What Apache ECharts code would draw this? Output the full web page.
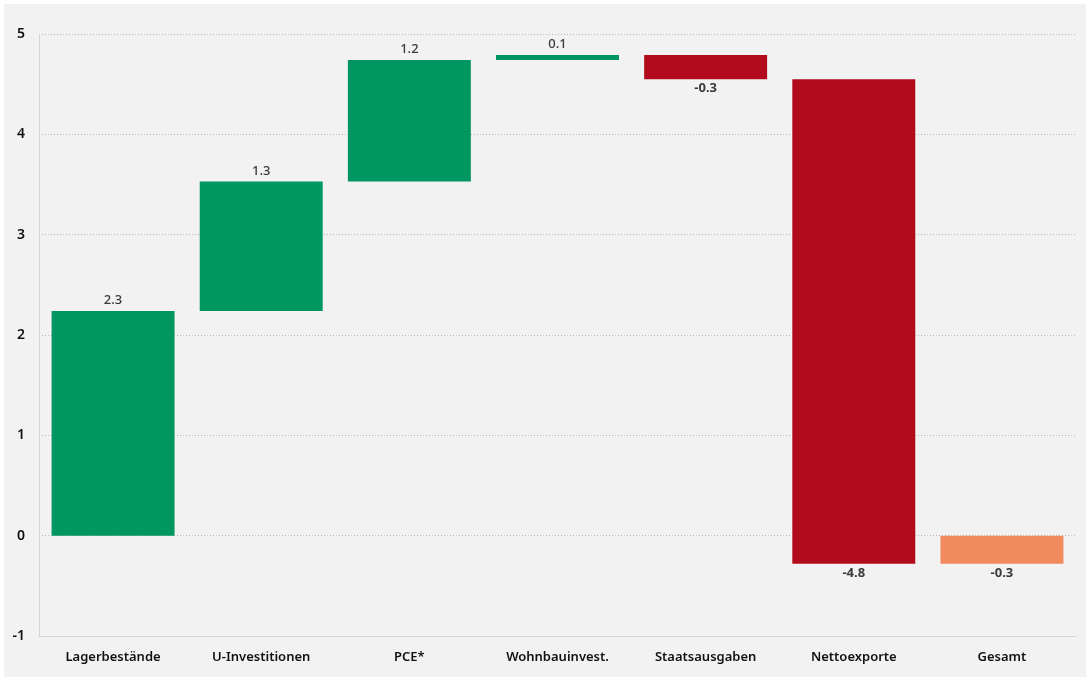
<!DOCTYPE html>
<html>
<head>
<meta charset="utf-8">
<script src="https://cdn.jsdelivr.net/npm/echarts@6/dist/echarts.min.js"></script>
<style>
  html, body { margin: 0; padding: 0; background: #ffffff; }
  #chart { width: 1090px; height: 682px; }
</style>
</head>
<body>
<div id="chart"></div>
<script>
// Beiträge zum BIP-Wachstum (Wasserfall)
var categories = ['Lagerbestände', 'U-Investitionen', 'PCE*', 'Wohnbauinvest.', 'Staatsausgaben', 'Nettoexporte', 'Gesamt'];
var deltas = [2.24, 1.29, 1.21, 0.05, -0.24, -4.83];
var labels = ['2.3', '1.3', '1.2', '0.1', '-0.3', '-4.8', '-0.3'];
var yTicks = [-1, 0, 1, 2, 3, 4, 5];

var green = '#009661', red = '#b20c1c', orange = '#f18a5c';

// Start/Ende jedes Balkens berechnen
var items = [];
var level = 0;
for (var i = 0; i < deltas.length; i++) {
    var start = level;
    level = level + deltas[i];
    items.push([i, start, level, deltas[i] >= 0 ? green : red, labels[i]]);
}
items.push([deltas.length, 0, level, orange, labels[deltas.length]]);

var chart = echarts.init(document.getElementById('chart'));

var option = {
    backgroundColor: '#ffffff',
    animation: false,
    graphic: [{
        type: 'rect',
        z: -10,
        shape: {x: 4, y: 4, width: 1082, height: 673},
        style: {fill: '#f2f2f2'}
    }],
    grid: {
        left: 39,
        right: 14,
        top: 34,
        bottom: 46
    },
    xAxis: {
        type: 'category',
        data: categories,
        axisLine: {onZero: false, lineStyle: {color: '#d6d6d6', width: 1}},
        axisTick: {show: false},
        axisLabel: {
            color: '#111',
            fontFamily: 'Noto Sans',
            fontSize: 13,
            fontWeight: 600,
            margin: 15
        }
    },
    yAxis: {
        type: 'value',
        min: yTicks[0],
        max: yTicks[yTicks.length - 1],
        interval: 1,
        axisLine: {show: true, lineStyle: {color: '#d6d6d6', width: 1}},
        axisTick: {show: false},
        axisLabel: {
            color: '#111',
            fontFamily: 'Noto Sans',
            fontSize: 14,
            fontWeight: 600,
            margin: 14
        },
        splitLine: {
            lineStyle: {color: '#b8b8b8', type: [1, 2], width: 1}
        }
    },
    series: [{
        type: 'custom',
        data: items,
        encode: {x: 0, y: [1, 2]},
        renderItem: function (params, api) {
            var idx = api.value(0);
            var p1 = api.coord([idx, api.value(1)]);
            var p2 = api.coord([idx, api.value(2)]);
            var w = api.size([1, 0])[0] * 0.83;
            var top = Math.min(p1[1], p2[1]);
            var h = Math.abs(p1[1] - p2[1]);
            var d = items[params.dataIndex];
            var up = d[2] >= d[1];
            return {
                type: 'group',
                children: [{
                    type: 'rect',
                    shape: {x: p1[0] - w / 2, y: top, width: w, height: h},
                    style: {fill: d[3]}
                }, {
                    type: 'text',
                    x: p1[0],
                    y: up ? top - 4 : top + h + 3,
                    style: {
                        text: d[4],
                        fill: '#3a3a3a',
                        font: (up ? '500' : '700') + ' 13px "Noto Sans"',
                        align: 'center',
                        verticalAlign: up ? 'bottom' : 'top'
                    }
                }]
            };
        }
    }]
};

chart.setOption(option);
</script>
</body>
</html>
